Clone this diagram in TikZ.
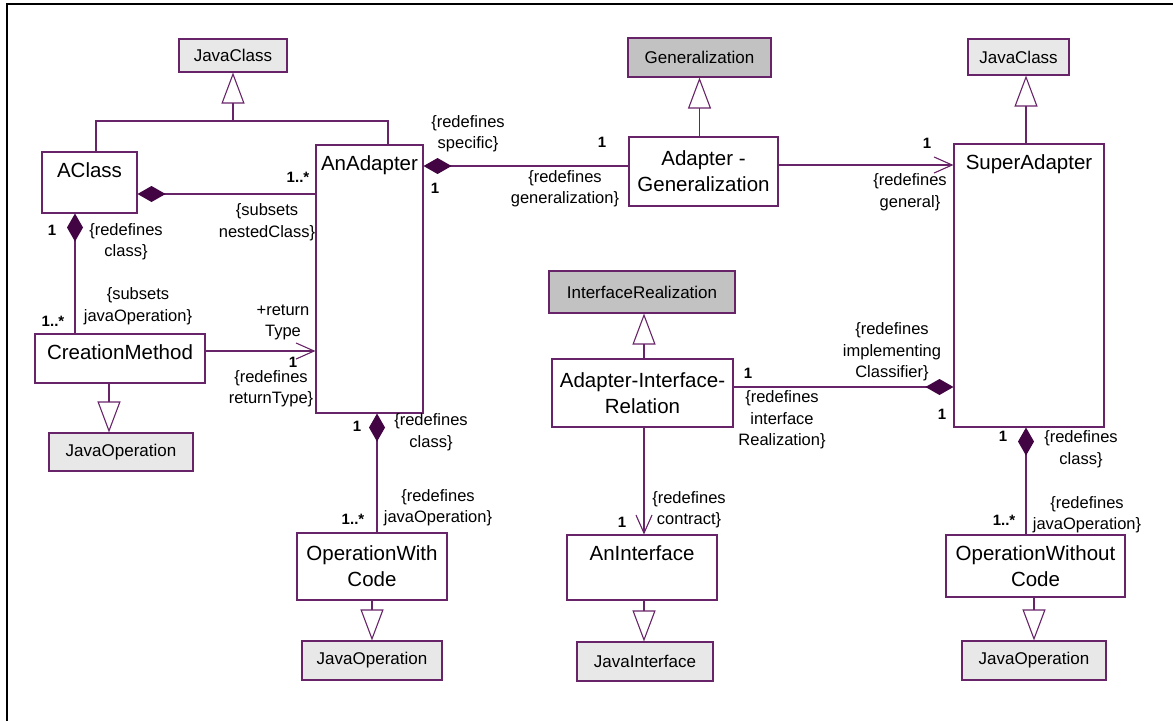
\documentclass[tikz,border=0pt]{standalone}
\usepackage{fontspec}
\setmainfont{Liberation Sans}
\usepackage{tikz}
\usetikzlibrary{arrows.meta}
\definecolor{UmlLine}{RGB}{104,36,104}
\definecolor{UmlDark}{RGB}{66,4,66}
\definecolor{JavaGray}{RGB}{232,232,232}
\definecolor{MetaGray}{RGB}{194,194,194}
\newcommand{\namefont}[0]{\fontsize{20.5}{26}\selectfont}
\newcommand{\basefont}[0]{\fontsize{17}{20}\selectfont}
\newcommand{\rolefont}[0]{\fontsize{16.5}{21.5}\selectfont}
\newcommand{\multfont}[0]{\fontsize{15}{18}\selectfont\bfseries}

\begin{document}
\begin{tikzpicture}[x=1pt,y=-1pt,
    cls/.style={draw=UmlLine, fill=white, inner sep=0pt, line width=1.1pt},
    clsname/.style={font=\namefont, anchor=base, yshift=-26pt, inner sep=0pt},
    base/.style={cls, font=\basefont, fill=JavaGray},
    meta/.style={base, fill=MetaGray},
    rel/.style={draw=UmlLine, line width=1.1pt},
    comp/.style={rel, -{Diamond[color=UmlDark, length=28pt, width=16pt]}},
    gen/.style={rel, -{Triangle[open, length=31pt, width=23pt]}},
    nav/.style={rel, -{Straight Barb[length=18pt, width=16pt]}},
    role/.style={font=\rolefont, align=center, inner sep=0pt},
    mult/.style={font=\multfont, inner sep=0pt}]
    \useasboundingbox (0,0) rectangle (1173,721);

    % Draw the frame
    \draw[line width=2pt] (7,721) -- (7,4) -- (1173,4);

    % Draw the java base classes
    \foreach \n/\x/\y/\w/\h/\t in {jclassA/233/55.5/108/33/JavaClass, jclassB/1018.5/57/101/36/JavaClass,
        jopA/121/452/144/38/JavaOperation, jopB/372/660.5/140/39/JavaOperation,
        jiface/645/661.5/136/39/JavaInterface, jopC/1034/660.5/144/39/JavaOperation}{
        \node[base, minimum width=\w pt, minimum height=\h pt] (\n) at (\x,\y) {\t};
    }

    % Draw the metaclasses
    \node[meta, minimum width=143pt, minimum height=39pt] (gen) at (699.5,57.5) {Generalization};
    \node[meta, minimum width=186pt, minimum height=42pt] (ireal) at (642,292) {InterfaceRealization};

    % Draw the pattern classes
    \node[cls, minimum width=95pt, minimum height=61pt, label={[clsname]north:AClass}] (aclass) at (89.5,182.5) {};
    \node[cls, minimum width=107pt, minimum height=268pt, label={[clsname]north:AnAdapter}] (adapter) at (369.5,279) {};
    \node[cls, minimum width=150pt, minimum height=283pt, label={[clsname]north:SuperAdapter}] (super) at (1029,285.5) {};
    \node[cls, minimum width=170pt, minimum height=49pt, label={[clsname]north:CreationMethod}] (creation) at (120,358.5) {};
    \node[cls, minimum width=150pt, minimum height=65pt, label={[clsname]north:AnInterface}] (iface) at (642,567.5) {};
    \node[cls, minimum width=149pt, minimum height=69pt, font=\namefont, align=center] (adgen) at (703.5,171.5) {Adapter -\\Generalization};
    \node[cls, minimum width=181pt, minimum height=68pt, font=\namefont, align=center] (airel) at (642.5,393) {Adapter-Interface-\\Relation};
    \node[cls, minimum width=150pt, minimum height=67pt, font=\namefont, align=center] (opwith) at (372,566.5) {OperationWith\\Code};
    \node[cls, minimum width=179pt, minimum height=62pt, font=\namefont, align=center] (opwithout) at (1035.5,566) {OperationWithout\\Code};

    % Draw the generalizations
    \coordinate (jc) at (233,121);
    \draw[rel] (aclass.north -| 96,0) |- (jc) -| (adapter.north -| 388,0);
    \draw[gen] (jc) -- (jclassA.south);
    \draw[gen] (adgen.north -| gen.south) -- (gen.south);
    \draw[gen] (super.north -| 1026,0) -- (jclassB.south -| 1026,0);
    \draw[gen] (creation.south -| 109,0) -- (jopA.north -| 109,0);
    \draw[gen] (opwith.south) -- (jopB.north);
    \draw[gen] (airel.north -| 644,0) -- (ireal.south -| 644,0);
    \draw[gen] (iface.south -| 644,0) -- (jiface.north -| 644,0);
    \draw[gen] (opwithout.south -| 1034,0) -- (jopC.north -| 1034,0);

    % Draw the compositions
    \draw[comp] (adapter.west |- 0,194) -- (aclass.east |- 0,194);
    \draw[comp] (adgen.west |- 0,166) -- (adapter.east |- 0,166);
    \draw[comp] (creation.north -| 75,0) -- (aclass.south -| 75,0);
    \draw[comp] (opwith.north -| 377,0) -- (adapter.south -| 377,0);
    \draw[comp] (airel.east |- 0,387) -- (super.west |- 0,387);
    \draw[comp] (opwithout.north -| 1026,0) -- (super.south -| 1026,0);

    % Draw the navigable ends
    \draw[nav] (adgen.east |- 0,165) -- (super.west |- 0,165);
    \draw[nav] (creation.east |- 0,351) -- (adapter.west |- 0,351);
    \draw[nav] (airel.south -| 644,0) -- (iface.north -| 644,0);

    % multiplicities
    \foreach \x/\y/\t [count=\c] in {298/177/{1..*}, 52/230/1, 53/321/{1..*}, 293/362/1, 357/426/1,
        353/519/{1..*}, 435/188/1, 602/142/1, 927/143/1, 748/373/1, 942/414/1, 1003/436/1,
        1004/520/{1..*}, 622/522/1}{
        \node[mult] (m\c) at (\x,\y) {\t};
    }

    % role names
    \foreach \x/\y/\t [count=\c] in {267/222/{\{subsets\\nestedClass\}}, 126/241.5/{\{redefines\\class\}},
        138/306/{\{subsets\\javaOperation\}}, 283/322.5/{+return\\Type},
        271/388.5/{\{redefines\\returnType\}}, 431/432/{\{redefines\\class\}},
        438/507.5/{\{redefines\\javaOperation\}}, 468/133.5/{\{redefines\\specific\}},
        565/188.5/{\{redefines\\generalization\}}, 910/192/{\{redefines\\general\}},
        782/420/{\{redefines\\interface\\Realization\}}, 892/352/{\{redefines\\implementing\\Classifier\}},
        1081/449/{\{redefines\\class\}}, 1087/514.5/{\{redefines\\javaOperation\}},
        689/509.5/{\{redefines\\contract\}}}{
        \node[role] (r\c) at (\x,\y) {\t};
    }
\end{tikzpicture}
\end{document}
